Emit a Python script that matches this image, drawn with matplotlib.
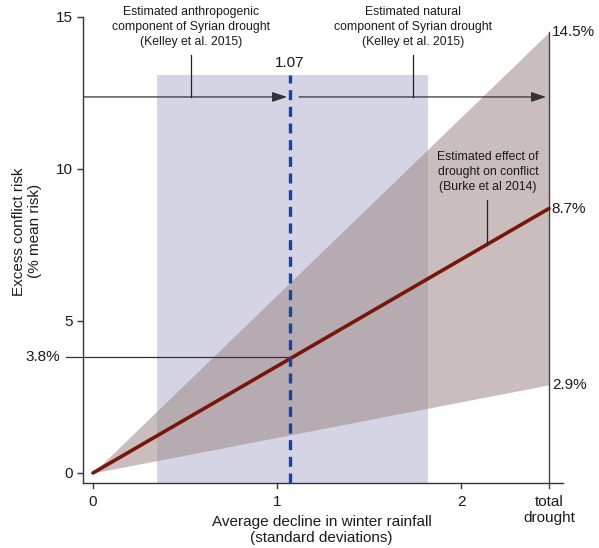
import matplotlib
matplotlib.use("Agg")
import matplotlib.pyplot as plt
import numpy as np

plt.rcParams['font.family'] = ['Liberation Sans', 'DejaVu Sans']

# values
x_total = 2.478          # "total drought" position on the x axis
effect_total = 8.7       # central estimate at total drought
upper_total = 14.5       # upper bound
lower_total = 2.9        # lower bound
anthro_x = 1.07          # anthropogenic component (sd)
anthro_y = 3.8           # resulting excess risk
rect_x = [0.35, 1.82]    # range of anthropogenic estimate
rect_top = 13.1
xticks = [0, 1, 2, x_total]
xticklabels = ["0", "1", "2", "total\ndrought"]
yticks = [0, 5, 10, 15]

W, H = 599, 548
fig = plt.figure(figsize=(W / 100, H / 100), dpi=100)
ax = fig.add_axes([83 / W, (H - 483) / H, (563 - 83) / W, (483 - 17) / H])
ax.set_xlim(-0.054, 2.554)
ax.set_ylim(-0.33, 15)

txt = "#1a1a1a"

# shaded range of the anthropogenic estimate
ax.fill_between(rect_x, [-0.33, -0.33], [rect_top, rect_top],
                color="#d4d4e4", lw=0, zorder=1)

# confidence wedge
xs = np.array([0, x_total])
ax.fill_between(xs, [0, lower_total], [0, upper_total],
                color=(162 / 255, 142 / 255, 142 / 255), alpha=0.58, lw=0, zorder=2)

# central line
ax.plot(xs, [0, effect_total], color="#7a1608", lw=2.6, solid_capstyle="round", zorder=4)

# blue dashed line
ax.plot([anthro_x, anthro_x], [-0.33, rect_top], color="#1145a8", lw=2.4,
        ls=(0, (3, 2)), zorder=5)
ax.text(anthro_x, 13.25, "1.07", ha="center", va="bottom", fontsize=11, color=txt)

# horizontal reference to 3.8%
ax.plot([-0.145, anthro_x], [anthro_y, anthro_y], color="#333333", lw=0.9,
        clip_on=False, zorder=3)
ax.text(-0.18, anthro_y, "3.8%", ha="right", va="center", fontsize=11, color=txt)

# right-hand vertical at total drought
ax.plot([x_total, x_total], [-0.5, upper_total], color="#444444", lw=1.0,
        clip_on=False, zorder=3)
for val in [upper_total, effect_total, lower_total]:
    ax.text(x_total + 0.015, val, f"{val}%", ha="left", va="center",
            fontsize=11, color=txt)

# arrows for the drought components
arrow_y = 12.37
ax.annotate("", xy=(1.055, arrow_y), xytext=(-0.05, arrow_y),
            arrowprops=dict(arrowstyle="-|>,head_length=0.9,head_width=0.3",
                            color="#333333", lw=0.9, shrinkA=0, shrinkB=0), zorder=6)
ax.annotate("", xy=(2.462, arrow_y), xytext=(1.12, arrow_y),
            arrowprops=dict(arrowstyle="-|>,head_length=0.9,head_width=0.3",
                            color="#333333", lw=0.9, shrinkA=0, shrinkB=0), zorder=6)

ax.plot([0.533, 0.533], [arrow_y, 13.75], color="#222222", lw=0.9, clip_on=False, zorder=6)
ax.plot([1.739, 1.739], [arrow_y, 13.75], color="#222222", lw=0.9, clip_on=False, zorder=6)
ax.text(0.533, 14.67, "Estimated anthropogenic\ncomponent of Syrian drought\n(Kelley et al. 2015)",
        ha="center", va="center", fontsize=8.8, color=txt, linespacing=1.3)
ax.text(1.739, 14.67, "Estimated natural\ncomponent of Syrian drought\n(Kelley et al. 2015)",
        ha="center", va="center", fontsize=8.8, color=txt, linespacing=1.3)

# Burke annotation
ax.plot([2.141, 2.141], [3.51 * 2.141, 8.98], color="#222222", lw=0.9, zorder=6)
ax.text(2.147, 9.9, "Estimated effect of\ndrought on conflict\n(Burke et al 2014)",
        ha="center", va="center", fontsize=8.8, color=txt, linespacing=1.3)

# axes styling
ax.spines["top"].set_visible(False)
ax.spines["right"].set_visible(False)
for s in ["left", "bottom"]:
    ax.spines[s].set_color("#333333")
    ax.spines[s].set_linewidth(1.0)
ax.set_xticks(xticks)
ax.set_xticklabels(xticklabels, linespacing=1.15)
ax.set_yticks(yticks)
ax.tick_params(axis="both", length=4, width=1.0, color="#333333",
               labelsize=11, labelcolor=txt, pad=3)
ax.tick_params(axis="x", length=0, pad=9)
for xt in xticks[:3]:
    ax.plot([xt, xt], [-0.33, -0.5], color="#333333", lw=1.0, clip_on=False)

ax.set_xlabel("Average decline in winter rainfall\n(standard deviations)",
              fontsize=11, color=txt, linespacing=1.25)
ax.xaxis.set_label_coords(0.497, -0.068)
ax.set_ylabel("Excess conflict risk\n(% mean risk)", fontsize=11, color=txt,
              linespacing=1.2)
ax.yaxis.set_label_coords(-0.085, 0.54)

fig.savefig("out.png", dpi=100)
